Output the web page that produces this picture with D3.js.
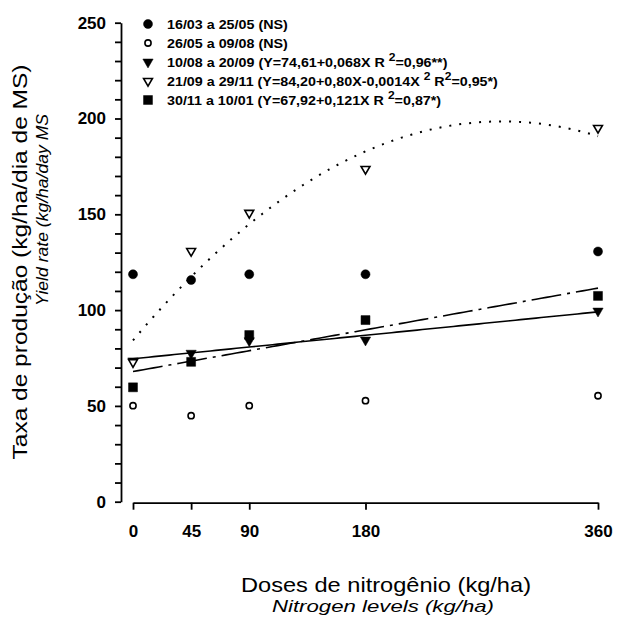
<!DOCTYPE html>
<html>
<head>
<meta charset="utf-8">
<script src="https://cdn.jsdelivr.net/npm/d3@7"></script>
<style>
body { margin: 0; background: #fff; }
text { font-family: "Liberation Sans", Arial, sans-serif; }
</style>
</head>
<body>
<svg id="chart" width="634" height="620"></svg>
<script>
// data
var doses = [0, 45, 90, 180, 360];
var serie1 = [118.7, 115.7, 118.7, 118.7, 130.6];   // 16/03 a 25/05
var serie2 = [50.1, 44.9, 50.1, 52.7, 55.3];        // 26/05 a 09/08
var serie3 = [73.5, 77.5, 84, 84.4, 99.5];          // 10/08 a 20/09
var serie4 = [72.8, 130.8, 150.7, 173.6, 195];      // 21/09 a 29/11
var serie5 = [59.7, 73, 87, 94.8, 107.4];           // 30/11 a 10/01
// regression coefficients (a + bX + cX^2) from the legend
var fit3 = [74.61, 0.068, 0];
var fit4 = [84.20, 0.80, -0.0014];
var fit5 = [67.92, 0.121, 0];
var yTicks = [0, 50, 100, 150, 200, 250];
var legendLabels = [
	[{t: "16/03 a 25/05 (NS)"}],
	[{t: "26/05 a 09/08 (NS)"}],
	[{t: "10/08 a 20/09 (Y=74,61+0,068X R "}, {t: "2", sup: true}, {t: "=0,96**)"}],
	[{t: "21/09 a 29/11 (Y=84,20+0,80X-0,0014X "}, {t: "2", sup: true}, {t: " R"}, {t: "2", sup: true}, {t: "=0,95*)"}],
	[{t: "30/11 a 10/01 (Y=67,92+0,121X R "}, {t: "2", sup: true}, {t: "=0,87*)"}]
];

var svg = d3.select("#chart");
svg.append("rect").attr("width", 634).attr("height", 620).attr("fill", "#fff");

var x = d3.scaleLinear().domain([0, 360]).range([133, 598]);
var y = d3.scaleLinear().domain([0, 250]).range([501.7, 22.7]);

// symbols
var styles = [
	{type: d3.symbolCircle, size: 64, fill: "#000", rot: 0},
	{type: d3.symbolCircle, size: 30, fill: "#fff", rot: 0},
	{type: d3.symbolTriangle, size: 46, fill: "#000", rot: 180},
	{type: d3.symbolTriangle, size: 34, fill: "#fff", rot: 180},
	{type: d3.symbolSquare, size: 80, fill: "#000", rot: 0}
];
var series = [serie1, serie2, serie3, serie4, serie5];

// fitted lines
var fits = [
	{c: fit3, dash: null},
	{c: fit4, dash: "2,8"},
	{c: fit5, dash: "30,6,3,6"}
];
var line = d3.line().x(function(d){return x(d[0]);}).y(function(d){return y(d[1]);});
fits.forEach(function(f) {
	var pts = d3.range(0, 361, 4).map(function(v){ return [v, f.c[0] + f.c[1]*v + f.c[2]*v*v]; });
	svg.append("path")
		.attr("d", line(pts))
		.attr("fill", "none")
		.attr("stroke", "#000")
		.attr("stroke-width", f.dash == "2,8" ? 2 : 1.6)
		.attr("stroke-dasharray", f.dash);
});

series.forEach(function(s, k) {
	var st = styles[k];
	svg.append("g").selectAll("path")
		.data(s)
		.enter().append("path")
		.attr("d", d3.symbol().type(st.type).size(st.size))
		.attr("transform", function(d, i){ return "translate(" + x(doses[i]) + "," + y(d) + ") rotate(" + st.rot + ")"; })
		.attr("fill", st.fill)
		.attr("stroke", "#000")
		.attr("stroke-width", st.fill == "#fff" ? 1.6 : 0.5);
});

// y axis
var yAxis = d3.axisLeft(y)
	.tickValues(d3.range(0, 251, 10))
	.tickSize(6).tickSizeOuter(0).tickPadding(9)
	.tickFormat(function(d){ return yTicks.indexOf(d) >= 0 ? d : ""; });
var gy = svg.append("g").attr("transform", "translate(121,0)").call(yAxis);

// x axis
var xAxis = d3.axisBottom(x).tickValues(doses).tickSize(7).tickSizeOuter(0).tickPadding(15);
var gx = svg.append("g").attr("transform", "translate(0,502.7)").call(xAxis);

[gx, gy].forEach(function(g) {
	g.selectAll("path, line").attr("stroke", "#000").attr("stroke-width", 1.8);
	g.selectAll("text")
		.attr("fill", "#000")
		.style("font-family", "'Liberation Sans', Arial, sans-serif")
		.style("font-size", "17px")
		.style("font-weight", "bold");
});

// axis titles
svg.append("text")
	.attr("transform", "translate(27,262) rotate(-90)")
	.attr("text-anchor", "middle")
	.attr("textLength", 395).attr("lengthAdjust", "spacingAndGlyphs")
	.style("font-size", "20px")
	.text("Taxa de produção (kg/ha/dia de MS)");
svg.append("text")
	.attr("transform", "translate(48,210) rotate(-90)")
	.attr("text-anchor", "middle")
	.attr("textLength", 192).attr("lengthAdjust", "spacingAndGlyphs")
	.style("font-size", "16px").style("font-style", "italic")
	.text("Yield rate (kg/ha/day MS");
svg.append("text")
	.attr("x", 386).attr("y", 592)
	.attr("text-anchor", "middle")
	.attr("textLength", 290).attr("lengthAdjust", "spacingAndGlyphs")
	.style("font-size", "21px")
	.text("Doses de nitrogênio (kg/ha)");
svg.append("text")
	.attr("x", 383).attr("y", 612)
	.attr("text-anchor", "middle")
	.attr("textLength", 222).attr("lengthAdjust", "spacingAndGlyphs")
	.style("font-size", "17px").style("font-style", "italic")
	.text("Nitrogen levels (kg/ha)");

// legend
var legend = svg.append("g");
legendLabels.forEach(function(parts, k) {
	var ry = 24 + k * 19;
	var st = styles[k];
	legend.append("path")
		.attr("d", d3.symbol().type(st.type).size(st.size))
		.attr("transform", "translate(148," + ry + ") rotate(" + st.rot + ")")
		.attr("fill", st.fill)
		.attr("stroke", "#000")
		.attr("stroke-width", st.fill == "#fff" ? 1.6 : 0.5);
	var t = legend.append("text")
		.attr("transform", "translate(167," + (ry + 4.6) + ") scale(1.1,1)")
		.style("font-size", "13px")
		.style("font-weight", "bold");
	parts.forEach(function(p, j) {
		var prevSup = j > 0 && parts[j-1].sup;
		t.append("tspan")
			.attr("dy", p.sup ? -6 : (prevSup ? 6 : 0))
			.style("font-size", p.sup ? "11px" : null)
			.text(p.t);
	});
});
</script>
</body>
</html>
